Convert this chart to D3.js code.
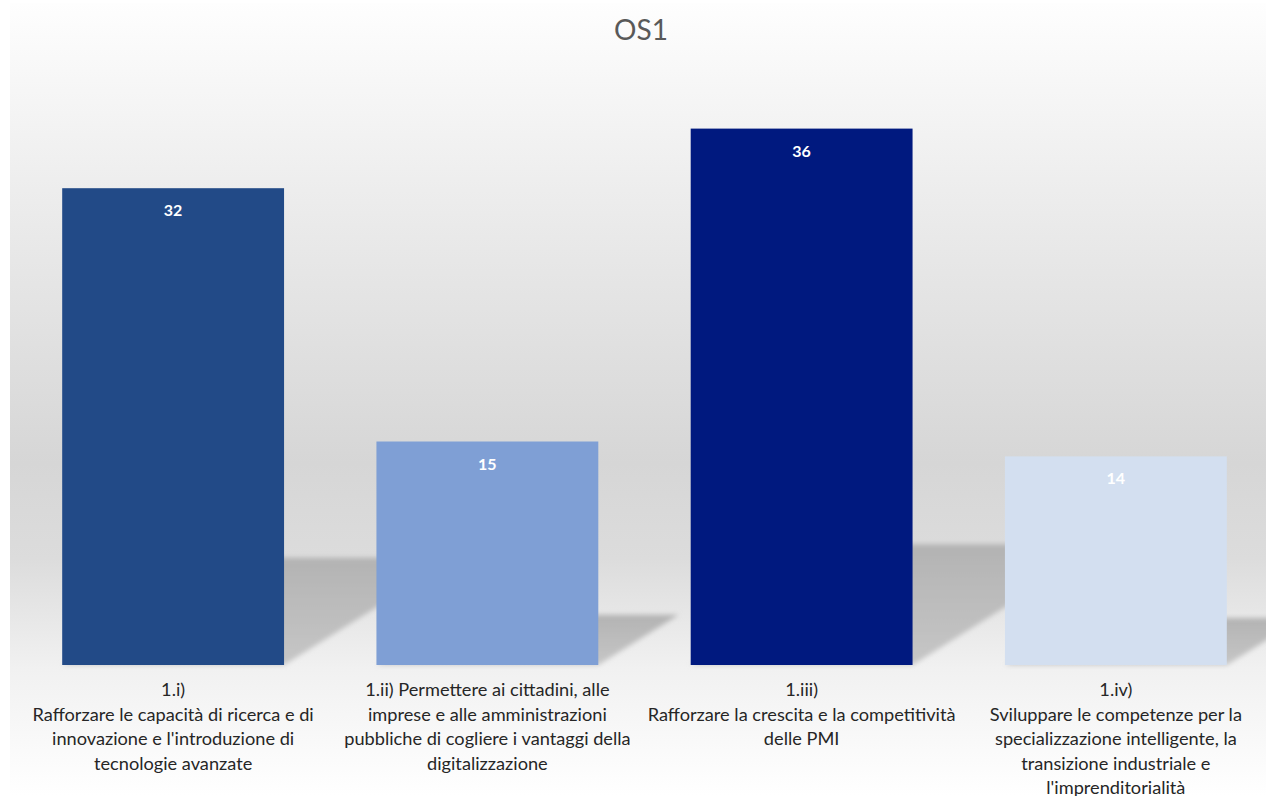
<!DOCTYPE html>
<html>
<head>
<meta charset="utf-8">
<script src="https://cdn.jsdelivr.net/npm/d3@7"></script>
<style>
  html, body { margin: 0; padding: 0; background: #ffffff; }
  svg { display: block; }
</style>
</head>
<body>
<svg id="chart" width="1266" height="796"></svg>
<script>
const title = "OS1";
const categories = ["1.i)", "1.ii)", "1.iii)", "1.iv)"];
const values = [32, 15, 36, 14];
const barColors = ["#224a87", "#7f9fd5", "#00197f", "#d3dff0"];
const labelLines = [
  ["1.i)", "Rafforzare le capacità di ricerca e di", "innovazione e l'introduzione di", "tecnologie avanzate"],
  ["1.ii) Permettere ai cittadini, alle", "imprese e alle amministrazioni", "pubbliche di cogliere i vantaggi della", "digitalizzazione"],
  ["1.iii)", "Rafforzare la crescita e la competitività", "delle PMI"],
  ["1.iv)", "Sviluppare le competenze per la", "specializzazione intelligente, la", "transizione industriale e", "l'imprenditorialità"]
];
const yDomain = [0, 40];

const W = 1266, H = 796;
const svg = d3.select("#chart");
const defs = svg.append("defs");

// background gradient panel
const bg = defs.append("linearGradient").attr("id", "bgGrad")
  .attr("x1", 0).attr("y1", 0).attr("x2", 0).attr("y2", 1);
[[0, "#fefefe"], [0.25, "#ececec"], [0.58, "#d6d6d6"], [0.7, "#dcdcdc"], [0.84, "#f1f1f1"], [1, "#ffffff"]]
  .forEach(([o, c]) => bg.append("stop").attr("offset", o).attr("stop-color", c));
svg.append("rect").attr("x", 10).attr("y", 3).attr("width", W - 10).attr("height", H - 3)
  .attr("fill", "url(#bgGrad)");

const blur = defs.append("filter").attr("id", "blur")
  .attr("x", "-10%").attr("y", "-10%").attr("width", "120%").attr("height", "120%");
blur.append("feGaussianBlur").attr("stdDeviation", 2.5);

const shGrad = defs.append("linearGradient").attr("id", "shGrad")
  .attr("x1", 0).attr("y1", 0).attr("x2", 0).attr("y2", 1);
shGrad.append("stop").attr("offset", 0).attr("stop-color", "#b3b3b3");
shGrad.append("stop").attr("offset", 1).attr("stop-color", "#c6c6c6");

const x = d3.scaleBand().domain(categories).range([16, 1273])
  .paddingInner(0.294).paddingOuter(0.147);
const y = d3.scaleLinear().domain(yDomain).range([665, 69]);
const base = y(0);

const data = categories.map((c, i) => ({ c, v: values[i], color: barColors[i], lines: labelLines[i] }));

// perspective shadows
svg.append("g").selectAll("path").data(data).join("path")
  .attr("d", d => {
    const x0 = x(d.c), x1 = x0 + x.bandwidth();
    const sh = (base - y(d.v)) * 0.225;
    const dx = sh * 1.6;
    return `M${x0},${base} L${x1},${base} L${x1 + dx},${base - sh} L${x0 + dx},${base - sh} Z`;
  })
  .attr("fill", "url(#shGrad)")
  .attr("filter", "url(#blur)");

// bars
svg.append("g").selectAll("rect").data(data).join("rect")
  .attr("x", d => x(d.c))
  .attr("y", d => y(d.v))
  .attr("width", x.bandwidth())
  .attr("height", d => base - y(d.v))
  .attr("fill", d => d.color);

// value labels
svg.append("g").selectAll("text").data(data).join("text")
  .attr("x", d => x(d.c) + x.bandwidth() / 2)
  .attr("y", d => y(d.v) + 28)
  .attr("text-anchor", "middle")
  .attr("font-family", "Lato, 'Open Sans', sans-serif")
  .attr("font-weight", "bold")
  .attr("font-size", 16)
  .attr("fill", "#ffffff")
  .text(d => d.v);

// category labels
const lg = svg.append("g").selectAll("text").data(data).join("text")
  .attr("text-anchor", "middle")
  .attr("font-family", "Lato, 'Open Sans', sans-serif")
  .attr("font-size", 18.2)
  .attr("fill", "#262626");
lg.each(function(d) {
  const t = d3.select(this);
  d.lines.forEach((ln, j) => {
    t.append("tspan")
      .attr("x", x(d.c) + x.bandwidth() / 2)
      .attr("y", 696 + j * 24.6)
      .text(ln);
  });
});

// title
svg.append("text")
  .attr("x", 641).attr("y", 40)
  .attr("text-anchor", "middle")
  .attr("font-family", "Lato, 'Open Sans', sans-serif")
  .attr("font-size", 28)
  .attr("fill", "#595959")
  .text(title);
</script>
</body>
</html>
